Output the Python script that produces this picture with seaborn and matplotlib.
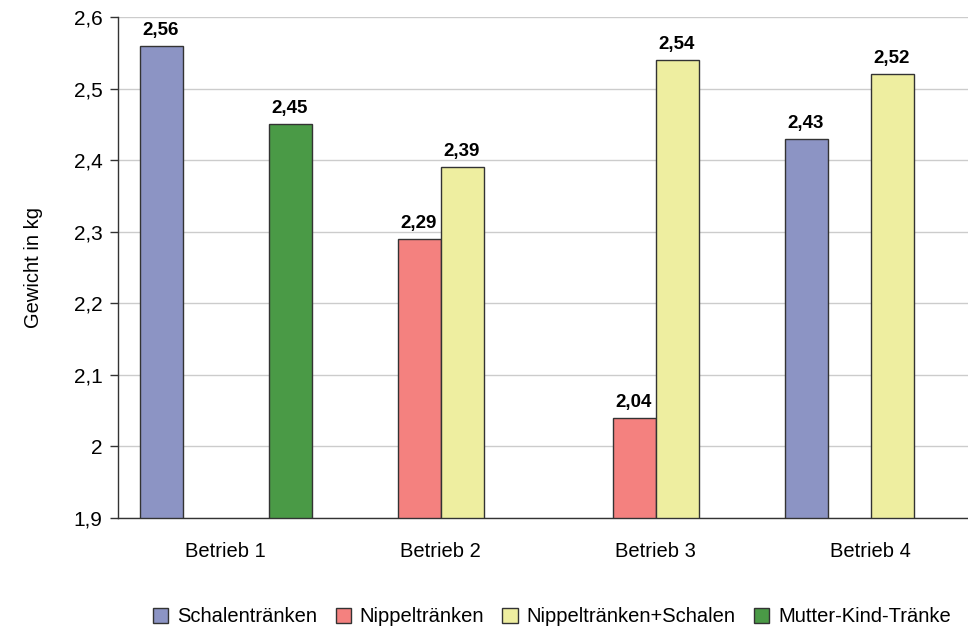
import matplotlib
matplotlib.use("Agg")
import matplotlib.pyplot as plt
import numpy as np
import pandas as pd
import seaborn as sns

# Data: mean weight (kg) per farm and drinking system
betriebe = ["Betrieb 1", "Betrieb 2", "Betrieb 3", "Betrieb 4"]
systeme = ["Schalentränken", "Nippeltränken", "Nippeltränken+Schalen", "Mutter-Kind-Tränke"]
schalen = [2.56, np.nan, np.nan, 2.43]
nippel = [np.nan, 2.29, 2.04, np.nan]
nippel_schalen = [np.nan, 2.39, 2.54, 2.52]
mutter_kind = [2.45, np.nan, np.nan, np.nan]

farben = ["#8c94c4", "#f4817f", "#eeeea0", "#4a9a46"]

rows = []
for serie, werte in zip(systeme, [schalen, nippel, nippel_schalen, mutter_kind]):
    for b, w in zip(betriebe, werte):
        rows.append({"Betrieb": b, "System": serie, "Gewicht": w})
df = pd.DataFrame(rows)

sns.set_style("white")
plt.rcParams["font.family"] = ["Liberation Sans", "DejaVu Sans"]
plt.rcParams["text.color"] = "black"
plt.rcParams["xtick.color"] = "black"
plt.rcParams["ytick.color"] = "black"
plt.rcParams["axes.labelcolor"] = "black"

fig = plt.figure(figsize=(9.68, 6.33), dpi=100)
ax = fig.add_axes([118 / 968, 1 - 518 / 633, 860 / 968, 501 / 633])

sns.barplot(
    data=df, x="Betrieb", y="Gewicht", hue="System",
    order=betriebe, hue_order=systeme, palette=farben, saturation=1,
    width=0.8, dodge=True, errorbar=None,
    edgecolor="#333333", linewidth=1.0, ax=ax, legend=True,
)

ax.set_ylim(1.9, 2.6)
ax.set_xlim(-0.5, 3.5)
yt = np.round(np.arange(1.9, 2.61, 0.1), 1)
ax.set_yticks(yt)
ax.set_yticklabels([f"{v:g}".replace(".", ",") for v in yt], fontsize=15)
ax.yaxis.grid(True, color="#cccccc", linewidth=1.0)
ax.set_axisbelow(True)

# category labels without marks, separator ticks between groups
ax.set_xticks(range(len(betriebe)))
ax.set_xticklabels(betriebe, fontsize=14.5)
ax.tick_params(axis="x", which="major", length=0, pad=17, colors="black")
ax.set_xticks(np.arange(-0.5, 3.6, 1.0), minor=True)
ax.tick_params(axis="x", which="minor", length=10, width=1, color="#333333", direction="out")
ax.tick_params(axis="y", length=6, width=1, color="#333333", labelcolor="black",
               direction="out", left=True, pad=5)

for side in ["top", "right"]:
    ax.spines[side].set_visible(False)
for side in ["left", "bottom"]:
    ax.spines[side].set_color("#333333")
    ax.spines[side].set_linewidth(1.0)

ax.set_xlabel("")
ax.set_ylabel("Gewicht in kg", fontsize=14.5, labelpad=22)

for cont in ax.containers:
    labels = ["" if np.isnan(v) else f"{v:.2f}".replace(".", ",") for v in cont.datavalues]
    ax.bar_label(cont, labels=labels, padding=5, fontsize=13.5, fontweight="bold", color="black")

leg = ax.get_legend()
leg.remove()
handles, labs = ax.get_legend_handles_labels()
fig.legend(
    handles[:4], labs[:4], loc="center", bbox_to_anchor=(552 / 968, 1 - 617 / 633),
    ncol=4, frameon=False, fontsize=14.5, handlelength=0.75, handleheight=0.75,
    handletextpad=0.45, columnspacing=0.9,
)

fig.savefig("out.png", dpi=100)
